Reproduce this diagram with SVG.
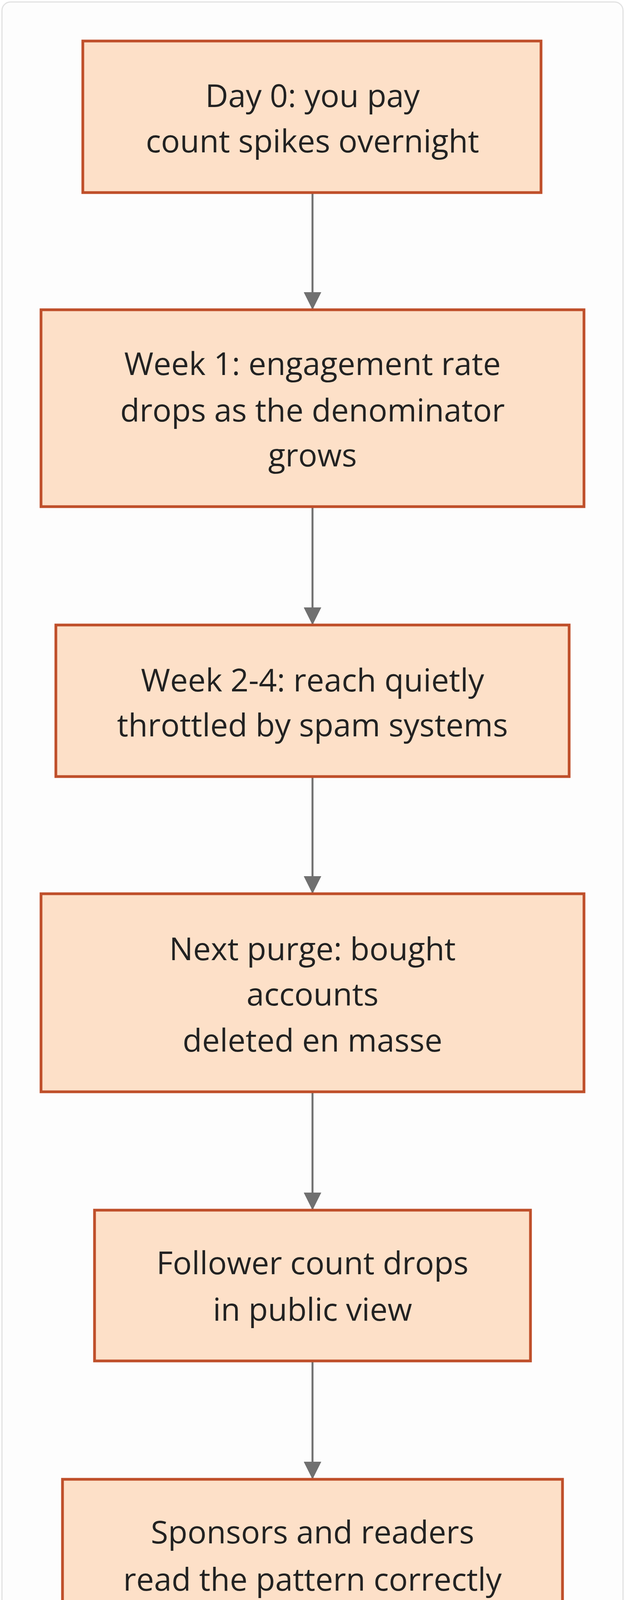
<svg xmlns="http://www.w3.org/2000/svg" width="1600" height="4320" viewBox="0 0 1600 4320">
<defs>
<style>
.box{fill:#fde0c8;stroke:#bf4f2a;stroke-width:7}
.t{font-family:"Open Sans","Noto Sans",sans-serif;font-size:81px;fill:#222;text-anchor:middle;dominant-baseline:central}
</style>
<marker id="m" viewBox="0 0 10 10" refX="10" refY="5" markerWidth="45" markerHeight="45" markerUnits="userSpaceOnUse" orient="auto"><path d="M0,0L10,5L0,10z" fill="#707070"/></marker>
</defs>
<rect x="5" y="5" width="1590" height="4308" rx="22" fill="#fdfdfd" stroke="#e2e2e2" stroke-width="3"/>
<g id="connectors" stroke="#707070" stroke-width="5" marker-end="url(#m)">
<line x1="800" y1="493" x2="800" y2="793"/>
<line x1="800" y1="1297" x2="800" y2="1600"/>
<line x1="800" y1="1988" x2="800" y2="2288"/>
<line x1="800" y1="2795" x2="800" y2="3098"/>
<line x1="800" y1="3484" x2="800" y2="3787"/>
</g>
<g id="n1"><rect class="box" x="212" y="105" width="1173" height="388"/><text class="t" x="800" y="242">Day 0: you pay</text><text class="t" x="800" y="358">count spikes overnight</text></g>
<g id="n2"><rect class="box" x="105" y="793" width="1390" height="504"/><text class="t" x="800" y="928">Week 1: engagement rate</text><text class="t" x="800" y="1047">drops as the denominator</text><text class="t" x="800" y="1162">grows</text></g>
<g id="n3"><rect class="box" x="143" y="1600" width="1314" height="388"/><text class="t" x="800" y="1738">Week 2-4: reach quietly</text><text class="t" x="800" y="1853">throttled by spam systems</text></g>
<g id="n4"><rect class="box" x="105" y="2288" width="1390" height="507"/><text class="t" x="800" y="2426">Next purge: bought</text><text class="t" x="800" y="2542">accounts</text><text class="t" x="800" y="2660">deleted en masse</text></g>
<g id="n5"><rect class="box" x="242" y="3098" width="1116" height="386"/><text class="t" x="800" y="3230">Follower count drops</text><text class="t" x="800" y="3349">in public view</text></g>
<g id="n6"><rect class="box" x="160" y="3787" width="1280" height="388"/><text class="t" x="800" y="3919">Sponsors and readers</text><text class="t" x="800" y="4040">read the pattern correctly</text></g>
<g id="wm"><rect x="1380" y="4236" width="210" height="55" rx="27" fill="#7a7a7a"/><text x="1485" y="4264" font-family="Open Sans,sans-serif" font-size="22" fill="#fff" text-anchor="middle" dominant-baseline="central">reachmore.co</text></g>
</svg>
